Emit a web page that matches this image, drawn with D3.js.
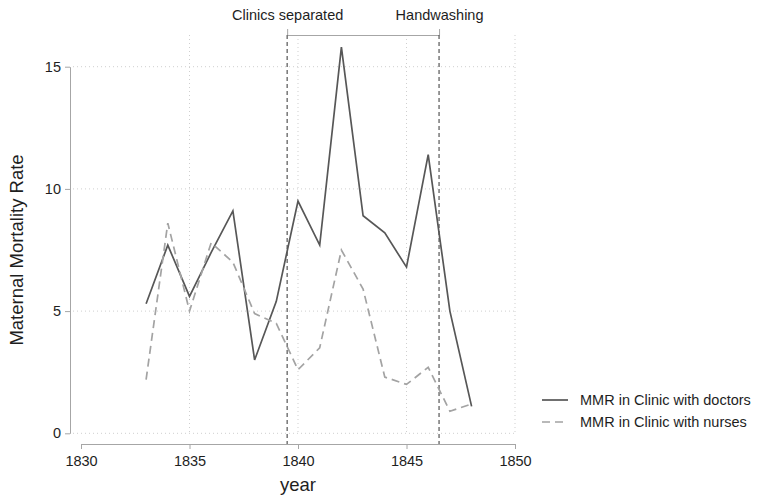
<!DOCTYPE html>
<html>
<head>
<meta charset="utf-8">
<script src="https://cdn.jsdelivr.net/npm/d3@7"></script>
<style>
  body { margin: 0; background: #fff; }
  svg { font-family: Arial, "Liberation Sans", sans-serif; }
  .axis path, .axis line { stroke: #a6a6a6; }
  .axis text { fill: #1e1e1e; font-size: 14.5px; }
</style>
</head>
<body>
<script>
(function () {
  'use strict';

  // data
  const years = [1833, 1834, 1835, 1836, 1837, 1838, 1839, 1840, 1841, 1842, 1843, 1844, 1845, 1846, 1847, 1848];
  const doctors = [5.3, 7.7, 5.6, 7.4, 9.1, 3.0, 5.4, 9.5, 7.7, 15.8, 8.9, 8.2, 6.8, 11.4, 5.0, 1.1];
  const nurses = [2.2, 8.6, 5.0, 7.8, 7.0, 4.9, 4.5, 2.6, 3.5, 7.5, 5.9, 2.3, 2.0, 2.7, 0.9, 1.2];
  const xTicks = [1830, 1835, 1840, 1845, 1850];
  const yTicks = [0, 5, 10, 15];
  const events = [1839.5, 1846.5];
  const eventLabels = ['Clinics separated', 'Handwashing'];
  const seriesNames = ['MMR in Clinic with doctors', 'MMR in Clinic with nurses'];

  const W = 760, H = 496;
  const svg = d3.select('body').append('svg')
    .attr('width', W)
    .attr('height', H);

  const x = d3.scaleLinear().domain([1830, 1850]).range([81, 515]);
  const y = d3.scaleLinear().domain([0, 15]).range([433.3, 66.7]);
  const plotTop = 35, xAxisY = 444, yAxisX = 70;

  // ---------------------------------------------------------------------------
  // grid
  // ---------------------------------------------------------------------------
  const grid = svg.append('g').attr('stroke', '#cfcfcf').attr('stroke-dasharray', '1,3');
  grid.selectAll('line.h')
    .data(yTicks)
    .enter().append('line')
    .attr('x1', yAxisX + 3).attr('x2', x(1850))
    .attr('y1', d => y(d)).attr('y2', d => y(d));
  grid.selectAll('line.v')
    .data(xTicks.slice(1))
    .enter().append('line')
    .attr('x1', d => x(d)).attr('x2', d => x(d))
    .attr('y1', plotTop).attr('y2', y(0));

  // ---------------------------------------------------------------------------
  // axes
  // ---------------------------------------------------------------------------
  svg.append('g')
    .attr('class', 'axis')
    .attr('transform', `translate(0,${xAxisY})`)
    .call(d3.axisBottom(x).tickValues(xTicks).tickFormat(d3.format('d'))
      .tickSize(5).tickSizeOuter(0).tickPadding(7))
    .call(g => g.selectAll('text').attr('font-family', null).attr('font-size', null));

  svg.append('g')
    .attr('class', 'axis')
    .attr('transform', `translate(${yAxisX},0)`)
    .call(d3.axisLeft(y).tickValues(yTicks)
      .tickSize(5).tickSizeOuter(0).tickPadding(4))
    .call(g => g.selectAll('text').attr('font-family', null).attr('font-size', null));

  // top bracket with event labels
  const xe = d3.scaleLinear().domain(events).range(events.map(x));
  svg.append('g')
    .attr('class', 'axis')
    .attr('transform', `translate(0,${plotTop})`)
    .call(d3.axisTop(xe).tickValues(events)
      .tickFormat((d, i) => eventLabels[i])
      .tickSize(6).tickSizeOuter(0).tickPadding(9))
    .call(g => g.selectAll('text').attr('font-family', null).attr('font-size', null));

  // axis titles
  svg.append('text')
    .attr('x', x(1840)).attr('y', 491)
    .attr('text-anchor', 'middle')
    .attr('font-size', '18.5px')
    .attr('fill', '#1e1e1e')
    .text('year');

  svg.append('text')
    .attr('transform', `translate(23,${y(7.5)}) rotate(-90)`)
    .attr('text-anchor', 'middle')
    .attr('font-size', '18.5px')
    .attr('fill', '#1e1e1e')
    .text('Maternal Mortality Rate');

  // ---------------------------------------------------------------------------
  // event markers
  // ---------------------------------------------------------------------------
  svg.append('g').selectAll('line')
    .data(events)
    .enter().append('line')
    .attr('x1', d => x(d)).attr('x2', d => x(d))
    .attr('y1', plotTop).attr('y2', xAxisY)
    .attr('stroke', '#555')
    .attr('stroke-width', 1.2)
    .attr('stroke-dasharray', '4,3');

  // ---------------------------------------------------------------------------
  // series
  // ---------------------------------------------------------------------------
  const styles = [
    { color: '#575757', dash: null },
    { color: '#a3a3a3', dash: '8,5' }
  ];
  const line = d3.line()
    .x(d => x(d[0]))
    .y(d => y(d[1]));

  [doctors, nurses].forEach((vals, i) => {
    svg.append('path')
      .datum(years.map((yr, j) => [yr, vals[j]]))
      .attr('d', line)
      .attr('fill', 'none')
      .attr('stroke', styles[i].color)
      .attr('stroke-width', 1.7)
      .attr('stroke-linejoin', 'miter')
      .attr('stroke-dasharray', styles[i].dash);
  });

  // ---------------------------------------------------------------------------
  // legend
  // ---------------------------------------------------------------------------
  const legend = svg.append('g')
    .selectAll('g')
    .data(seriesNames)
    .enter().append('g')
    .attr('transform', (d, i) => `translate(542,${400 + i * 22})`);
  legend.append('line')
    .attr('x1', 0).attr('x2', 26)
    .attr('stroke', (d, i) => styles[i].color)
    .attr('stroke-width', 1.7)
    .attr('stroke-dasharray', (d, i) => styles[i].dash);
  legend.append('text')
    .attr('x', 38).attr('dy', '0.35em')
    .attr('font-size', '14.5px')
    .attr('fill', '#1e1e1e')
    .text(d => d);
})();
</script>
</body>
</html>
